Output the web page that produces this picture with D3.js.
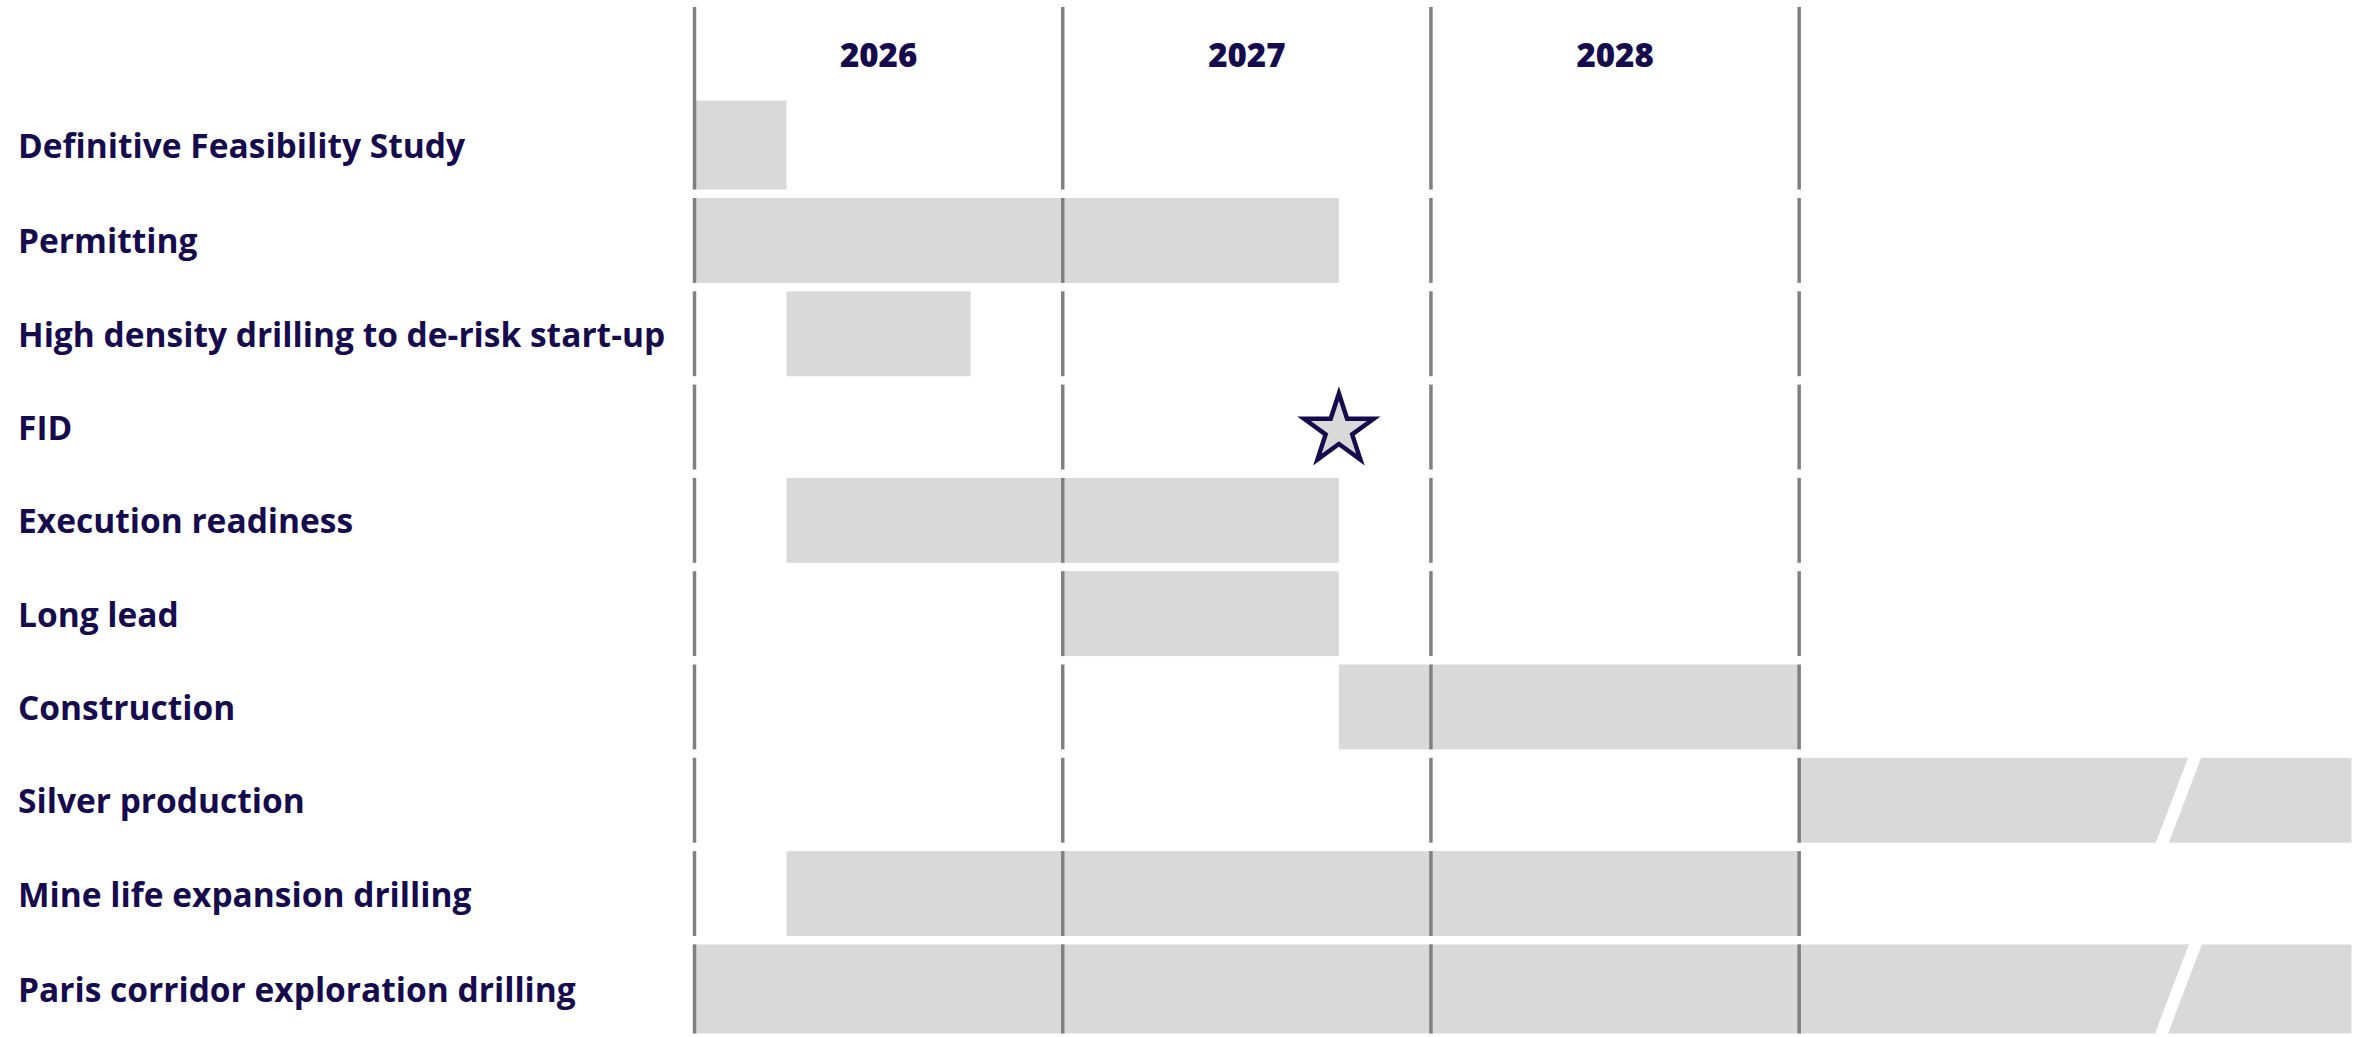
<!DOCTYPE html>
<html>
<head>
<meta charset="utf-8">
<script src="https://cdn.jsdelivr.net/npm/d3@7"></script>
<style>
  html, body { margin: 0; padding: 0; background: #ffffff; }
  svg { display: block; }
</style>
</head>
<body>
<svg id="chart" width="2369" height="1037"></svg>
<script>
// ---- data ----
const tasks = [
  "Definitive Feasibility Study",
  "Permitting",
  "High density drilling to de-risk start-up",
  "FID",
  "Execution readiness",
  "Long lead",
  "Construction",
  "Silver production",
  "Mine life expansion drilling",
  "Paris corridor exploration drilling"
];
// start / end in fractional years (quarters)
const starts = [2026.0, 2026.0, 2026.25, null, 2026.25, 2027.0, 2027.75, 2029.0, 2026.25, 2026.0];
const ends   = [2026.25, 2027.75, 2026.75, null, 2027.75, 2027.75, 2029.0, 2030.5, 2029.0, 2030.5];
// milestone (star)
const milestoneTask = "FID";
const milestoneValue = 2027.75;
// bars that continue beyond the view (shown with a break)
const ongoing = ["Silver production", "Paris corridor exploration drilling"];
const breakValue = 2030.03;
// year columns
const yearBoundaries = [2026, 2027, 2028, 2029];
const yearLabels = ["2026", "2027", "2028"];

// ---- layout ----
const svg = d3.select("#chart");
const textColor = "#150b4d";
const barColor = "#d9d9d9";
const gridColor = "#808080";
const font = "'Open Sans', Lato, sans-serif";

const x = d3.scaleLinear().domain([2026, 2030.5]).range([694.5, 2351.5]);
const y = d3.scaleBand().domain(tasks).range([100.5, 1033.5]).paddingInner(0.09).paddingOuter(0.045);
const bw = y.bandwidth();
const [yTop, yBot] = y.range();
const lastIdx = tasks.length - 1;
const rowTop = (d, i) => i === 0 ? yTop : y(d);
const rowBot = (d, i) => i === lastIdx ? yBot : y(d) + bw;

// bars
const barData = tasks.map((t, i) => ({ t, i, s: starts[i], e: ends[i] })).filter(d => d.s !== null);
svg.append("g").selectAll("rect").data(barData).join("rect")
  .attr("x", d => x(d.s))
  .attr("y", d => rowTop(d.t, d.i))
  .attr("width", d => x(d.e) - x(d.s))
  .attr("height", d => rowBot(d.t, d.i) - rowTop(d.t, d.i))
  .attr("fill", barColor);

// breaks on ongoing bars (white slanted gap)
const gap = 13, slope = 0.38;
svg.append("g").selectAll("path").data(barData.filter(d => ongoing.includes(d.t))).join("path")
  .attr("d", d => {
    const t = rowTop(d.t, d.i) - 1, b = rowBot(d.t, d.i) + 1;
    const m = (t + b) / 2, cx = x(breakValue);
    const xt = cx + (m - t) * slope, xb = cx - (b - m) * slope;
    return `M${xt - gap/2},${t}L${xt + gap/2},${t}L${xb + gap/2},${b}L${xb - gap/2},${b}Z`;
  })
  .attr("fill", "#ffffff");

// grid segments (one per row, header merged with first row)
const segs = [];
tasks.forEach((t, i) => {
  segs.push({ top: i === 0 ? 7 : rowTop(t, i), bot: rowBot(t, i) });
});
const grid = svg.append("g");
yearBoundaries.forEach(v => {
  grid.selectAll(null).data(segs).join("line")
    .attr("x1", x(v)).attr("x2", x(v))
    .attr("y1", d => d.top).attr("y2", d => d.bot)
    .attr("stroke", gridColor).attr("stroke-width", 3.5);
});

// year header labels
svg.append("g").selectAll("text").data(yearLabels).join("text")
  .attr("x", d => x(+d + 0.5))
  .attr("y", 54)
  .attr("text-anchor", "middle")
  .attr("dominant-baseline", "central")
  .attr("font-family", font)
  .attr("font-weight", 800)
  .attr("font-size", 33)
  .attr("fill", textColor)
  .text(d => d);

// row labels
svg.append("g").selectAll("text").data(tasks).join("text")
  .attr("x", 18)
  .attr("y", (d, i) => (rowTop(d, i) + rowBot(d, i)) / 2)
  .attr("dominant-baseline", "central")
  .attr("font-family", font)
  .attr("font-weight", 700)
  .attr("font-size", 33.5)
  .attr("fill", textColor)
  .text(d => d);

// milestone star
const star = d3.symbol().type(d3.symbolStar).size(1500);
const mi = tasks.indexOf(milestoneTask);
svg.append("path")
  .attr("d", star())
  .attr("transform", `translate(${x(milestoneValue)},${(rowTop(milestoneTask, mi) + rowBot(milestoneTask, mi)) / 2 + 3})`)
  .attr("fill", barColor)
  .attr("stroke", textColor)
  .attr("stroke-width", 4.5)
  .attr("stroke-linejoin", "miter");
</script>
</body>
</html>
